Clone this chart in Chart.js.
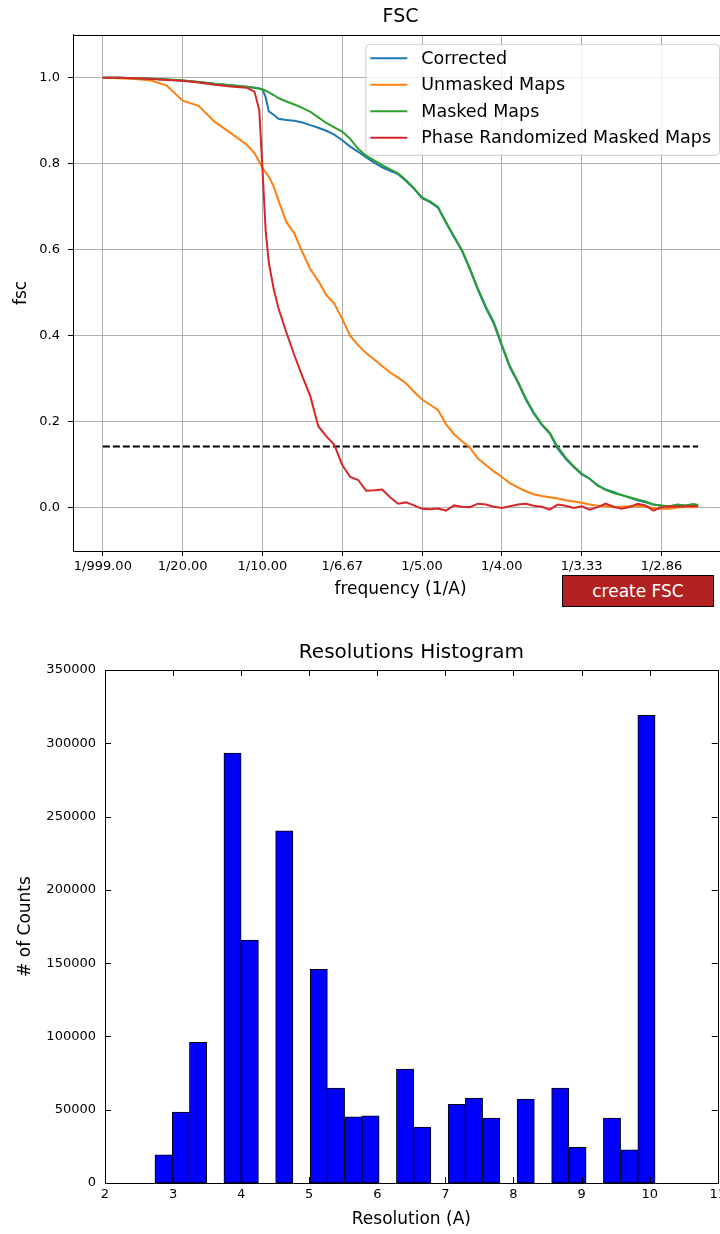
<!DOCTYPE html>
<html>
<head>
<meta charset="utf-8">
<title>FSC</title>
<script src="https://cdn.jsdelivr.net/npm/chart.js@4.4.1/dist/chart.umd.min.js"></script>
<style>
    html, body { margin: 0; padding: 0; background: #fff; }
    body { width: 720px; height: 1234px; overflow: hidden; position: relative; font-family: 'DejaVu Sans', sans-serif; }
    #fscChart { position: absolute; left: 0; top: 0; }
    #histChart { position: absolute; left: 0; top: 630px; }
    #create-fsc {
        position: absolute; left: 562px; top: 575px; width: 152px; height: 32px;
        background: #b22222; color: #fff; border: 1px solid #000; padding: 0;
        font: 17px 'DejaVu Sans', sans-serif;
    }
</style>
</head>
<body>
<canvas id="fscChart" width="740" height="611"></canvas>
<button id="create-fsc">create FSC</button>
<canvas id="histChart" width="730" height="604"></canvas>
<script>
// FSC curves, frequency in 1/A
const freq = [0, 0.01, 0.02, 0.03, 0.04, 0.05, 0.06, 0.07, 0.08, 0.09,
    0.095, 0.098, 0.1, 0.102, 0.104, 0.107, 0.11,
    0.115, 0.12, 0.125, 0.13, 0.135, 0.14, 0.145, 0.15, 0.155, 0.16,
    0.165, 0.17, 0.175, 0.18, 0.185, 0.19, 0.195, 0.2, 0.205, 0.21,
    0.215, 0.22, 0.225, 0.23, 0.235, 0.24, 0.245, 0.25, 0.255, 0.26,
    0.265, 0.27, 0.275, 0.28, 0.285, 0.29, 0.295, 0.3, 0.305, 0.31,
    0.315, 0.32, 0.325, 0.33, 0.335, 0.34, 0.345, 0.35, 0.355, 0.36,
    0.365, 0.37, 0.373];

const corrected = [1.0, 1.0, 0.999, 0.998, 0.996, 0.994, 0.990, 0.986, 0.983, 0.979,
    0.977, 0.975, 0.973, 0.955, 0.922, 0.914, 0.905,
    0.902, 0.900, 0.896, 0.890, 0.884, 0.877, 0.868, 0.855, 0.840, 0.828,
    0.815, 0.803, 0.792, 0.784, 0.776, 0.760, 0.742, 0.720, 0.711, 0.698,
    0.663, 0.630, 0.598, 0.554, 0.507, 0.465, 0.428, 0.377, 0.327, 0.292,
    0.252, 0.220, 0.193, 0.173, 0.138, 0.114, 0.095, 0.078, 0.068, 0.052,
    0.043, 0.037, 0.030, 0.024, 0.018, 0.013, 0.008, 0.005, 0.003, 0.007,
    0.005, 0.008, 0.006];

const unmasked = [1.0, 0.999, 0.997, 0.994, 0.982, 0.947, 0.935, 0.898, 0.872, 0.845,
    0.825, 0.805, 0.791, 0.780, 0.770, 0.748, 0.715,
    0.665, 0.638, 0.595, 0.555, 0.528, 0.495, 0.475, 0.440, 0.400, 0.378,
    0.360, 0.345, 0.330, 0.315, 0.303, 0.290, 0.270, 0.252, 0.240, 0.228,
    0.195, 0.172, 0.155, 0.140, 0.115, 0.100, 0.085, 0.072, 0.058, 0.048,
    0.039, 0.032, 0.028, 0.025, 0.022, 0.018, 0.015, 0.012, 0.008, 0.005,
    0.004, 0.002, 0.003, 0.004, 0.005, 0.003, 0.000, -0.002, -0.002, 0.001,
    0.003, 0.002, 0.003];

const masked = [1.0, 1.0, 0.999, 0.998, 0.996, 0.994, 0.990, 0.986, 0.983, 0.979,
    0.977, 0.975, 0.973, 0.970, 0.966, 0.960, 0.953,
    0.945, 0.938, 0.930, 0.921, 0.908, 0.895, 0.885, 0.875, 0.858, 0.835,
    0.819, 0.808, 0.797, 0.787, 0.778, 0.762, 0.743, 0.722, 0.713, 0.700,
    0.665, 0.632, 0.600, 0.557, 0.510, 0.468, 0.432, 0.380, 0.330, 0.295,
    0.255, 0.222, 0.195, 0.175, 0.142, 0.117, 0.097, 0.080, 0.068, 0.053,
    0.042, 0.035, 0.030, 0.025, 0.020, 0.015, 0.008, 0.006, 0.004, 0.008,
    0.006, 0.009, 0.007];

const phaseRandomized = [1.0, 1.0, 0.999, 0.997, 0.995, 0.993, 0.989, 0.984, 0.980, 0.977,
    0.968, 0.925, 0.790, 0.645, 0.570, 0.510, 0.465,
    0.408, 0.355, 0.306, 0.260, 0.190, 0.167, 0.147, 0.100, 0.072, 0.065,
    0.040, 0.041, 0.043, 0.025, 0.010, 0.013, 0.006, -0.002, -0.003, -0.001,
    -0.006, 0.006, 0.003, 0.002, 0.010, 0.008, 0.003, 0.000, 0.004, 0.008,
    0.010, 0.005, 0.003, -0.004, 0.008, 0.005, 0.000, 0.004, -0.004, 0.002,
    0.010, 0.003, -0.002, 0.002, 0.010, 0.006, -0.006, 0.002, 0.004, 0.003,
    0.004, 0.004, 0.004];

const threshold = 0.143;
const thresholdRange = [0, 0.373];

const freqTicks = [0, 0.05, 0.1, 0.15, 0.2, 0.25, 0.3, 0.35];
const freqTickLabels = ['1/999.00', '1/20.00', '1/10.00', '1/6.67', '1/5.00', '1/4.00', '1/3.33', '1/2.86'];
const fscTicks = [0, 0.2, 0.4, 0.6, 0.8, 1.0];
const freqRange = [-0.0187, 0.3917];
const fscRange = [-0.1, 1.1];

// Resolution histogram
const binCenters = [2.86, 3.113, 3.367, 3.62, 3.873, 4.127, 4.38, 4.633, 4.887, 5.14,
    5.393, 5.647, 5.9, 6.153, 6.407, 6.66, 6.913, 7.167, 7.42, 7.673,
    7.927, 8.18, 8.433, 8.687, 8.94, 9.193, 9.447, 9.7, 9.953];
const binCounts = [19300, 48400, 95900, null, 293300, 165700, null, 240300, null, 145700,
    64800, 45200, 45900, null, 77800, 38200, null, 53600, 58000, 44300,
    null, 57300, null, 64800, 24300, null, 44300, 22700, 319000];
const resRange = [2, 11];
const countRange = [0, 350000];

Chart.defaults.font.family = "'DejaVu Sans', sans-serif";
Chart.defaults.color = '#000';

const toPoints = ys => freq.map((f, i) => ({ x: f, y: ys[i] }));

// black box round the plot, optional inward ticks (classic matplotlib look)
const frame = {
    id: 'frame',
    afterDatasetsDraw(chart, args, opts) {
        const { ctx, chartArea: a } = chart;
        ctx.save();
        ctx.strokeStyle = '#000';
        ctx.lineWidth = 1;
        ctx.strokeRect(Math.round(a.left) + 0.5, Math.round(a.top) + 0.5,
            Math.round(a.right - a.left), Math.round(a.bottom - a.top));
        if (opts.inTicks) {
            const len = 6;
            ctx.beginPath();
            chart.scales.x.ticks.forEach(t => {
                const px = Math.round(chart.scales.x.getPixelForValue(t.value)) + 0.5;
                ctx.moveTo(px, a.bottom); ctx.lineTo(px, a.bottom - len);
                ctx.moveTo(px, a.top); ctx.lineTo(px, a.top + len);
            });
            chart.scales.y.ticks.forEach(t => {
                const py = Math.round(chart.scales.y.getPixelForValue(t.value)) + 0.5;
                ctx.moveTo(a.left, py); ctx.lineTo(a.left + len, py);
                ctx.moveTo(a.right, py); ctx.lineTo(a.right - len, py);
            });
            ctx.stroke();
        }
        ctx.restore();
    }
};

// legend box inside the upper right corner
const fscLegend = {
    id: 'fscLegend',
    afterDatasetsDraw(chart) {
        const { ctx, chartArea: a } = chart;
        const items = chart.data.datasets.filter(d => d.label);
        ctx.save();
        ctx.font = "17.5px 'DejaVu Sans', sans-serif";
        const rowH = 26.5;
        const textW = Math.max(...items.map(d => ctx.measureText(d.label).width));
        const w = 56 + textW + 8;
        const h = items.length * rowH + 5;
        const x = a.right - 9 - w;
        const y = a.top + 9;
        ctx.beginPath();
        ctx.roundRect(x + 0.5, y + 0.5, w, h, 4);
        ctx.fillStyle = 'rgba(255,255,255,0.8)';
        ctx.fill();
        ctx.strokeStyle = '#cccccc';
        ctx.lineWidth = 1;
        ctx.stroke();
        ctx.textBaseline = 'middle';
        items.forEach((d, i) => {
            const cy = y + 14.5 + i * rowH;
            ctx.beginPath();
            ctx.strokeStyle = d.borderColor;
            ctx.lineWidth = 2;
            ctx.moveTo(x + 5, cy);
            ctx.lineTo(x + 42, cy);
            ctx.stroke();
            ctx.fillStyle = '#000';
            ctx.fillText(d.label, x + 56, cy + 1);
        });
        ctx.restore();
    }
};

new Chart(document.getElementById('fscChart'), {
    type: 'line',
    data: {
        datasets: [
            { label: 'Corrected', data: toPoints(corrected), borderColor: '#1f77b4', order: 3 },
            { label: 'Unmasked Maps', data: toPoints(unmasked), borderColor: '#ff7f0e', order: 2 },
            { label: 'Masked Maps', data: toPoints(masked), borderColor: '#2ca02c', order: 1 },
            { label: 'Phase Randomized Masked Maps', data: toPoints(phaseRandomized), borderColor: '#d62728', order: 0 },
            {
                data: thresholdRange.map(f => ({ x: f, y: threshold })),
                borderColor: '#000', borderDash: [7, 3], order: 4
            }
        ]
    },
    options: {
        responsive: false,
        animation: false,
        layout: { padding: { left: 0, right: 12, top: 0, bottom: 0 } },
        elements: {
            point: { radius: 0 },
            line: { borderWidth: 2, tension: 0, fill: false }
        },
        plugins: {
            legend: { display: false },
            tooltip: { enabled: false },
            title: {
                display: true, text: 'FSC', fullSize: false, color: '#000',
                font: { size: 19, weight: 'normal' }, padding: { top: 6, bottom: 6 }
            }
        },
        scales: {
            x: {
                type: 'linear', min: freqRange[0], max: freqRange[1],
                afterBuildTicks: s => { s.ticks = freqTicks.map(v => ({ value: v })); },
                afterFit: s => { s.height = 60; },
                ticks: {
                    callback: (v, i) => freqTickLabels[i],
                    autoSkip: false, maxRotation: 0, padding: 3, font: { size: 13 }
                },
                grid: { color: '#b0b0b0', lineWidth: 1, tickColor: '#000', tickLength: 5 },
                border: { color: '#000' },
                title: {
                    display: true, text: 'frequency (1/A)', font: { size: 17 },
                    padding: { top: 0, bottom: 11 }
                }
            },
            y: {
                min: fscRange[0], max: fscRange[1],
                afterBuildTicks: s => { s.ticks = fscTicks.map(v => ({ value: v })); },
                afterFit: s => { s.width = 73; },
                ticks: { callback: v => v.toFixed(1), padding: 8, font: { size: 13 } },
                grid: { color: '#b0b0b0', lineWidth: 1, tickColor: '#000', tickLength: 5 },
                border: { color: '#000' },
                title: {
                    display: true, text: 'fsc', font: { size: 17 },
                    padding: { top: 11, bottom: 0 }
                }
            }
        }
    },
    plugins: [frame, fscLegend]
});

new Chart(document.getElementById('histChart'), {
    type: 'bar',
    data: {
        datasets: [{
            data: binCenters.map((c, i) => ({ x: c, y: binCounts[i] })),
            backgroundColor: '#0000ff',
            borderColor: '#000',
            borderWidth: 1,
            borderSkipped: false,
            barPercentage: 1,
            categoryPercentage: 1
        }]
    },
    options: {
        responsive: false,
        animation: false,
        layout: { padding: { left: 0, right: 11, top: 0, bottom: 0 } },
        plugins: {
            legend: { display: false },
            tooltip: { enabled: false },
            title: {
                display: true, text: 'Resolutions Histogram', fullSize: false, color: '#000',
                font: { size: 20, weight: 'normal' }, padding: { top: 11, bottom: 5 }
            },
            frame: { inTicks: true }
        },
        scales: {
            x: {
                type: 'linear', min: resRange[0], max: resRange[1], offset: false,
                afterFit: s => { s.height = 51; },
                ticks: { stepSize: 1, padding: 4, maxRotation: 0, font: { size: 13 } },
                grid: { display: false, drawTicks: false, offset: false },
                border: { display: false },
                title: {
                    display: true, text: 'Resolution (A)', font: { size: 17 },
                    padding: { top: 0, bottom: 4 }
                }
            },
            y: {
                min: countRange[0], max: countRange[1],
                afterFit: s => { s.width = 105; },
                ticks: { stepSize: 50000, padding: 9, callback: v => String(v), font: { size: 13 } },
                grid: { display: false, drawTicks: false },
                border: { display: false },
                title: {
                    display: true, text: '# of Counts', font: { size: 17 },
                    padding: { top: 15, bottom: 0 }
                }
            }
        }
    },
    plugins: [frame]
});
</script>
</body>
</html>
